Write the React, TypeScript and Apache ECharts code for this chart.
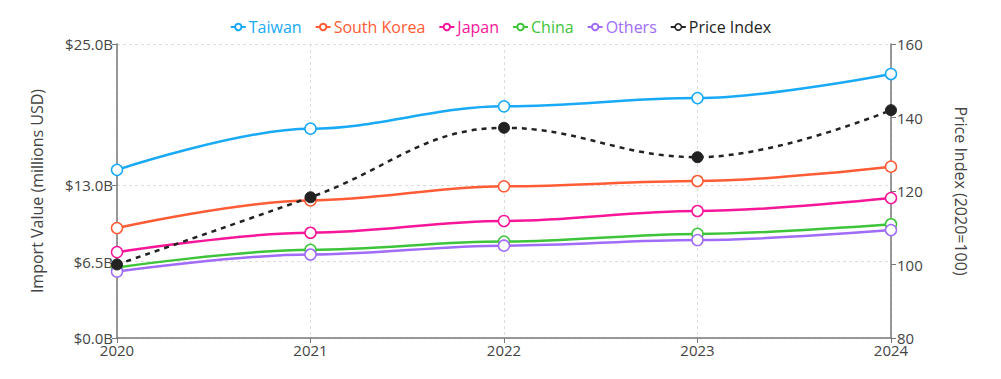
import React, { useEffect, useRef } from "react";
import * as echarts from "echarts";

const years = ["2020", "2021", "2022", "2023", "2024"];
const taiwan = [14.3, 17.8, 19.7, 20.4, 22.45];
const southKorea = [9.35, 11.7, 12.9, 13.35, 14.57];
const japan = [7.3, 8.95, 9.95, 10.8, 11.9];
const china = [6.0, 7.5, 8.2, 8.85, 9.67];
const others = [5.65, 7.1, 7.85, 8.33, 9.18];
const priceIndex = [100, 118.3, 137.2, 129.2, 142];
const leftTicks = [0, 6.5, 13, 25];

const FONT = "'Open Sans', 'Noto Sans', sans-serif";

const seriesDefs = [
  { name: "Taiwan", data: taiwan, color: "#18a9f7" },
  { name: "South Korea", data: southKorea, color: "#ff5b35" },
  { name: "Japan", data: japan, color: "#f7169a" },
  { name: "China", data: china, color: "#3ec43a" },
  { name: "Others", data: others, color: "#a06cf8" },
];

export default function App() {
  const ref = useRef<HTMLDivElement>(null);
  useEffect(() => {
    if (!ref.current) return;
    const chart = echarts.init(ref.current, undefined, { renderer: "svg" });
    const lineSeries = seriesDefs.map((s) => ({
      name: s.name,
      type: "line",
      data: s.data,
      yAxisIndex: 0,
      smooth: 0.35,
      smoothMonotone: "x",
      symbol: "circle",
      symbolSize: 11,
      showAllSymbol: true,
      lineStyle: { color: s.color, width: 2.5 },
      itemStyle: { color: "#ffffff", borderColor: s.color, borderWidth: 1.5 },
      z: 3,
    }));
    chart.setOption({
      animation: false,
      textStyle: { fontFamily: FONT },
      legend: {
        top: 14,
        left: "center",
        itemWidth: 15,
        itemHeight: 8,
        itemGap: 13,
        textStyle: { fontSize: 16, fontFamily: FONT, padding: [0, 0, 0, -2] },
        data: [
          ...seriesDefs.map((s) => ({ name: s.name, textStyle: { color: s.color } })),
          { name: "Price Index", textStyle: { color: "#222" }, itemStyle: { color: "#fff", borderColor: "#222", borderWidth: 1.5 } },
        ],
      },
      grid: { left: 117, right: 110, top: 44, bottom: 41, containLabel: false },
      xAxis: {
        type: "category",
        data: years,
        boundaryGap: false,
        axisLine: { lineStyle: { color: "#777", width: 1.5 } },
        axisTick: { show: true, length: 5, lineStyle: { color: "#777" } },
        axisLabel: { color: "#444", fontSize: 15, margin: 4, fontFamily: FONT },
        splitLine: { show: true, lineStyle: { color: "#ddd", type: [3, 3] } },
      },
      yAxis: [
        {
          type: "value",
          min: 0,
          max: 25,
          name: "Import Value (millions USD)",
          nameLocation: "middle",
          nameGap: 72,
          nameTextStyle: { color: "#444", fontSize: 16, fontFamily: FONT },
          axisLine: { show: true, lineStyle: { color: "#777", width: 1.5 } },
          axisTick: { show: true, length: 5, customValues: leftTicks, lineStyle: { color: "#777" } },
          axisLabel: {
            customValues: leftTicks,
            color: "#444",
            fontSize: 15,
            margin: 4,
            fontFamily: FONT,
            formatter: (v: number) => "$" + v.toFixed(1) + "B",
          },
          splitLine: { show: true, lineStyle: { color: "#ddd", type: [3, 3] } },
        },
        {
          type: "value",
          position: "right",
          min: 80,
          max: 160,
          interval: 20,
          name: "Price Index (2020=100)",
          nameLocation: "middle",
          nameGap: 62,
          nameRotate: -90,
          nameTextStyle: { color: "#444", fontSize: 16, fontFamily: FONT },
          axisLine: { show: true, lineStyle: { color: "#777", width: 1.5 } },
          axisTick: { show: true, length: 5, lineStyle: { color: "#777" } },
          axisLabel: { color: "#444", fontSize: 15, margin: 6, fontFamily: FONT },
          splitLine: { show: false },
        },
      ],
      series: [
        ...lineSeries,
        {
          name: "Price Index",
          type: "line",
          data: priceIndex,
          yAxisIndex: 1,
          smooth: 0.4,
          symbol: "circle",
          symbolSize: 11,
          lineStyle: { color: "#222", width: 2.5, type: [5, 5] },
          itemStyle: { color: "#222", borderColor: "#222" },
          z: 4,
        },
      ],
    });
    return () => chart.dispose();
  }, []);
  return <div ref={ref} style={{ width: 1001, height: 379, margin: -8 }} />;
}
